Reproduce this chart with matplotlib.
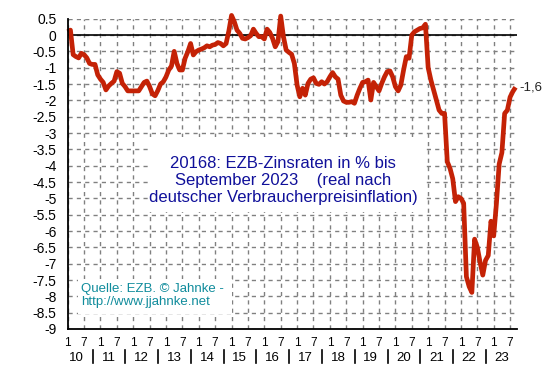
import matplotlib
matplotlib.use("Agg")
import matplotlib.pyplot as plt
import matplotlib.transforms as mtransforms
from matplotlib.patches import Rectangle
from matplotlib.lines import Line2D
import numpy as np

plt.rcParams['font.family'] = ['Liberation Sans', 'DejaVu Sans']

# ---------------- data (monthly, Jan 2010 .. Sep 2023) ----------------
start_year = 2010
values = [
    # 2010
    0.1, 0.15, -0.6, -0.66, -0.7, -0.56, -0.6, -0.7, -0.87, -0.9, -0.9, -1.22,
    # 2011
    -1.35, -1.45, -1.68, -1.56, -1.48, -1.41, -1.12, -1.17, -1.48, -1.58, -1.71, -1.71,
    # 2012
    -1.71, -1.71, -1.71, -1.58, -1.45, -1.41, -1.58, -1.8, -1.86, -1.7, -1.5, -1.43,
    # 2013
    -1.28, -1.07, -0.95, -0.5, -0.87, -1.07, -1.07, -0.71, -0.51, -0.26, -0.61, -0.51,
    # 2014
    -0.46, -0.43, -0.39, -0.33, -0.36, -0.31, -0.29, -0.23, -0.26, -0.33, -0.26, 0.12,
    # 2015
    0.6, 0.41, 0.15, 0.05, -0.1, -0.12, -0.08, -0.02, 0.18, 0.05, -0.05, -0.05,
    # 2016
    -0.12, 0.18, 0.08, -0.1, -0.36, -0.2, 0.58, -0.05, -0.46, -0.53, -0.59, -0.87,
    # 2017
    -1.53, -1.89, -1.63, -1.84, -1.48, -1.35, -1.31, -1.48, -1.51, -1.43, -1.5, -1.43,
    # 2018
    -1.28, -1.15, -1.28, -1.35, -1.84, -2.02, -2.06, -2.06, -2.04, -2.09, -1.84, -1.63,
    # 2019
    -1.45, -1.43, -1.38, -1.99, -1.45, -1.58, -1.71, -1.48, -1.28, -1.12, -1.1, -1.28,
    # 2020
    -1.58, -1.71, -1.53, -1.07, -0.66, -0.71, 0.0, 0.1, 0.15, 0.2, 0.22, 0.33,
    # 2021
    -1.0, -1.38, -1.68, -1.99, -2.3, -2.4, -2.4, -3.88, -4.08, -4.4, -5.1, -4.95,
    # 2022
    -5.0, -5.15, -7.4, -7.7, -7.88, -6.25, -6.5, -6.95, -7.35, -6.9, -6.75, -5.7,
    # 2023
    -6.15, -5.15, -3.95, -3.6, -2.4, -2.3, -1.9, -1.73, -1.6,
]
month_labels = ["1", "7"]
year_labels = ["10", "11", "12", "13", "14", "15", "16", "17", "18", "19",
               "20", "21", "22", "23"]
y_ticks = np.arange(-9.0, 0.51, 0.5)
y_tick_labels = ["-9", "-8.5", "-8", "-7.5", "-7", "-6.5", "-6", "-5.5", "-5",
                 "-4.5", "-4", "-3.5", "-3", "-2.5", "-2", "-1.5", "-1", "-0.5",
                 "0", "0.5"]
last_label = "-1,6"
title_text = ("20168: EZB-Zinsraten in % bis\n"
              "September 2023    (real nach\n"
              "deutscher Verbraucherpreisinflation)")
source_text = "Quelle: EZB. © Jahnke -\nhttp://www.jjahnke.net"

t = start_year + np.arange(len(values)) / 12.0

# ---------------- figure ----------------
W, H = 553, 376
fig = plt.figure(figsize=(W / 100, H / 100), dpi=100)
fig.patch.set_facecolor('white')

def fx(px):
    return px / W

def fy(py):
    return 1 - py / H

ax_l, ax_r, ax_t, ax_b = 67.7, 516.7, 18.7, 329.0
ax = fig.add_axes([fx(ax_l), fy(ax_b), fx(ax_r) - fx(ax_l), fy(ax_t) - fy(ax_b)])
ax.set_xlim(2010, 2010 + (ax_r - ax_l) / 32.77)
ax.set_ylim(-9, 0.5)

for s in ['top', 'right']:
    ax.spines[s].set_visible(False)
for s in ['left', 'bottom']:
    ax.spines[s].set_linewidth(1.3)
    ax.spines[s].set_color('black')
    ax.spines[s].set_zorder(5)

half_years = np.arange(2010, 2024, 0.5)
ax.set_xticks(half_years)
ax.set_xticklabels([])
ax.tick_params(axis='x', length=0)
ax.set_yticks(y_ticks)
ax.set_yticklabels(y_tick_labels, fontsize=10)
ax.tick_params(axis='y', length=0, pad=8)

ax.set_axisbelow(True)
ax.grid(True, color='#808080', linestyle=(0, (3, 3)), linewidth=1.0)
ax.axhline(0, color='black', linewidth=1.2, zorder=2)

# white boxes behind texts
ax.add_patch(Rectangle((fx(149), fy(212)), fx(426) - fx(149), fy(137) - fy(212),
                       transform=fig.transFigure, facecolor='white',
                       edgecolor='none', zorder=1))
ax.add_patch(Rectangle((fx(78), fy(314)), fx(232) - fx(78), fy(279) - fy(314),
                       transform=fig.transFigure, facecolor='white',
                       edgecolor='none', zorder=1))

ax.plot(t, values, color='#C42206', linewidth=3.4, solid_capstyle='butt',
        solid_joinstyle='round', zorder=3, clip_on=False)

# x labels
blend = mtransforms.blended_transform_factory(ax.transData, fig.transFigure)
for i, hy in enumerate(half_years):
    ax.text(hy, fy(343), month_labels[i % 2], transform=blend, ha='center',
            va='center', fontsize=8.5, color='black')
for i, yl in enumerate(year_labels):
    yr = 2010 + i
    ax.text(yr + 0.25, fy(358), yl, transform=blend, ha='center', va='center',
            fontsize=9.5, color='black')
    if i < len(year_labels) - 1:
        ax.add_line(Line2D([yr + 0.76, yr + 0.76], [fy(350), fy(363)],
                           transform=blend, color='black', linewidth=1.2,
                           clip_on=False))

fig.text(fx(283), fy(180.5), title_text, ha='center', va='center',
         multialignment='center', fontsize=12, color='#10109A',
         linespacing=1.17)
fig.text(fx(81), fy(295.5), source_text, ha='left', va='center',
         fontsize=9.5, color='#108C9C', linespacing=1.13)
fig.text(fx(519), fy(88), last_label, ha='left', va='center', fontsize=9.5,
         color='#222222')

fig.savefig('out.png', dpi=100, facecolor='white')
